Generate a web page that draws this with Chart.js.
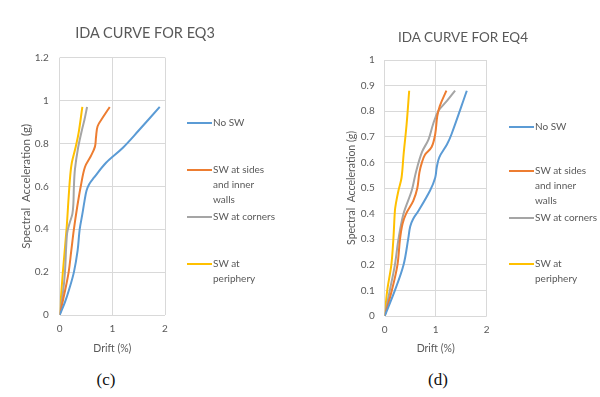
<!DOCTYPE html>
<html>
<head>
<meta charset="utf-8">
<script src="https://cdn.jsdelivr.net/npm/chart.js@4.4.3/dist/chart.umd.min.js"></script>
<style>
  body { margin: 0; background: #fff; width: 600px; height: 397px; position: relative; overflow: hidden; font-family: Lato, sans-serif; color: #595959; }
  canvas { position: absolute; top: 0; }
  #eq3 { left: 0; }
  #eq4 { left: 300px; }
  .title { position: absolute; white-space: nowrap; transform: translate(-50%, -50%); }
  .legend { position: absolute; font-size: 10px; line-height: 15px; }
  .item { position: absolute; left: 0; display: flex; }
  .swatch { width: 25px; height: 2px; margin-top: 7px; }
  .lbl { padding-left: 1px; white-space: nowrap; }
  .cap { position: absolute; font-family: 'Liberation Serif', serif; font-size: 17px; color: #111; transform: translate(-50%, -50%); }
</style>
</head>
<body>
<canvas id="eq3" width="300" height="365"></canvas>
<canvas id="eq4" width="300" height="365"></canvas>
<div class="title" style="left:145px;top:32px;font-size:14.5px">IDA CURVE FOR EQ3</div>
<div class="title" style="left:463px;top:37px;font-size:13.5px">IDA CURVE FOR EQ4</div>
<div class="legend" id="leg3" style="left:187px;top:0"></div>
<div class="legend" id="leg4" style="left:509px;top:0"></div>
<div class="cap" style="left:106px;top:380px">(c)</div>
<div class="cap" style="left:438px;top:380px">(d)</div>
<script>
// Series names and colours (Excel default palette)
const seriesNames = ['No SW', 'SW at sides and inner walls', 'SW at corners', 'SW at periphery'];
const seriesColors = ['#5B9BD5', '#ED7D31', '#A5A5A5', '#FFC000'];
// how the legend wraps each name
const legendLines = [['No SW'], ['SW at sides', 'and inner', 'walls'], ['SW at corners'], ['SW at', 'periphery']];

// Tick values / labels
const xTicks = [0, 1, 2];
const xLabels = ['0', '1', '2'];
const yTicksEQ3 = [0, 0.2, 0.4, 0.6, 0.8, 1, 1.2];
const yLabelsEQ3 = ['0', '0.2', '0.4', '0.6', '0.8', '1', '1.2'];
const yTicksEQ4 = [0, 0.1, 0.2, 0.3, 0.4, 0.5, 0.6, 0.7, 0.8, 0.9, 1];
const yLabelsEQ4 = ['0', '0.1', '0.2', '0.3', '0.4', '0.5', '0.6', '0.7', '0.8', '0.9', '1'];

// EQ3 - drift (%) and spectral acceleration (g)
const eq3NoSwDrift = [0, 0.1, 0.18, 0.27, 0.34, 0.38, 0.43, 0.47, 0.51, 0.56, 0.65, 0.88, 1.2, 1.5, 1.9];
const eq3NoSwSa    = [0, 0.06, 0.12, 0.2, 0.3, 0.4, 0.47, 0.53, 0.58, 0.61, 0.64, 0.71, 0.78, 0.86, 0.97];
const eq3SidesDrift = [0, 0.09, 0.17, 0.22, 0.27, 0.33, 0.4, 0.48, 0.59, 0.67, 0.69, 0.72, 0.83, 0.95];
const eq3SidesSa    = [0, 0.1, 0.2, 0.3, 0.4, 0.5, 0.6, 0.69, 0.74, 0.785, 0.83, 0.88, 0.925, 0.97];
const eq3CornersDrift = [0, 0.06, 0.1, 0.14, 0.19, 0.24, 0.26, 0.27, 0.29, 0.35, 0.42, 0.47, 0.52];
const eq3CornersSa    = [0, 0.1, 0.2, 0.38, 0.43, 0.47, 0.52, 0.6, 0.68, 0.78, 0.86, 0.91, 0.97];
const eq3PeriDrift = [0, 0.06, 0.13, 0.17, 0.2, 0.23, 0.3, 0.36, 0.43];
const eq3PeriSa    = [0, 0.2, 0.4, 0.55, 0.65, 0.71, 0.78, 0.85, 0.97];

// EQ4
const eq4NoSwDrift = [0, 0.2, 0.37, 0.46, 0.5, 0.56, 0.66, 0.89, 0.99, 1.02, 1.07, 1.22, 1.31, 1.61];
const eq4NoSwSa    = [0, 0.1, 0.2, 0.3, 0.35, 0.38, 0.41, 0.49, 0.54, 0.58, 0.62, 0.67, 0.71, 0.88];
const eq4SidesDrift = [0, 0.14, 0.25, 0.3, 0.35, 0.42, 0.56, 0.64, 0.68, 0.73, 0.79, 0.92, 0.99, 1.03, 1.08, 1.21];
const eq4SidesSa    = [0, 0.1, 0.2, 0.3, 0.36, 0.4, 0.45, 0.5, 0.56, 0.6, 0.63, 0.66, 0.71, 0.78, 0.82, 0.88];
const eq4CornersDrift = [0, 0.1, 0.2, 0.27, 0.37, 0.53, 0.61, 0.73, 0.86, 0.95, 1.05, 1.22, 1.38];
const eq4CornersSa    = [0, 0.1, 0.2, 0.3, 0.4, 0.49, 0.56, 0.64, 0.69, 0.75, 0.8, 0.84, 0.88];
const eq4PeriDrift = [0, 0.05, 0.13, 0.17, 0.2, 0.22, 0.27, 0.33, 0.37, 0.43, 0.48];
const eq4PeriSa    = [0, 0.1, 0.2, 0.3, 0.41, 0.44, 0.49, 0.54, 0.63, 0.75, 0.88];

const FONT = 'Lato';
const TEXT = '#595959';
const GRID = '#D9D9D9';

function zip(xs, ys) {
  return xs.map((x, i) => ({ x, y: ys[i] }));
}

function makeChart(id, series, yTicks, yLabels, box) {
  const datasets = series.map((s, i) => ({
    label: seriesNames[i],
    data: zip(s[0], s[1]),
    showLine: true,
    borderColor: seriesColors[i],
    backgroundColor: seriesColors[i],
    borderWidth: 2,
    pointRadius: 0,
    tension: 0.35
  }));
  return new Chart(document.getElementById(id), {
    type: 'scatter',
    data: { datasets },
    options: {
      responsive: false,
      animation: false,
      layout: { padding: { left: 0, top: box.top, right: box.right, bottom: 0 } },
      plugins: { legend: { display: false }, tooltip: { enabled: false } },
      scales: {
        x: {
          type: 'linear', min: 0, max: 2,
          afterFit: (s) => { s.height = box.xHeight; },
          afterBuildTicks: (s) => { s.ticks = xTicks.map(v => ({ value: v })); },
          ticks: { padding: 8, color: TEXT, font: { family: FONT, size: 10 }, callback: (v, i) => xLabels[i] },
          grid: { color: GRID, drawTicks: false },
          border: { display: false },
          title: { display: true, text: 'Drift (%)', color: TEXT, font: { family: FONT, size: 10.5 }, padding: { top: 0, bottom: box.xTitlePad } }
        },
        y: {
          type: 'linear', min: 0, max: yTicks[yTicks.length - 1],
          afterFit: (s) => { s.width = box.left; },
          afterBuildTicks: (s) => { s.ticks = yTicks.map(v => ({ value: v })); },
          ticks: { padding: box.yTickPad, color: TEXT, font: { family: FONT, size: 10 }, callback: (v, i) => yLabels[i] },
          grid: { color: GRID, drawTicks: false },
          border: { display: false },
          title: { display: true, text: 'Spectral  Acceleration (g)', color: TEXT, font: { family: FONT, size: box.yTitleSize }, padding: { top: box.yTitlePad, bottom: 0 } }
        }
      }
    }
  });
}

function buildLegend(id, rows) {
  const el = document.getElementById(id);
  seriesNames.forEach((name, i) => {
    const item = document.createElement('div');
    item.className = 'item';
    item.style.top = (rows[i] - 8) + 'px';
    item.title = name;
    item.innerHTML = '<div class="swatch" style="background:' + seriesColors[i] + '"></div><div class="lbl">' + legendLines[i].join('<br>') + '</div>';
    el.appendChild(item);
  });
}

makeChart('eq3', [
  [eq3NoSwDrift, eq3NoSwSa],
  [eq3SidesDrift, eq3SidesSa],
  [eq3CornersDrift, eq3CornersSa],
  [eq3PeriDrift, eq3PeriSa]
], yTicksEQ3, yLabelsEQ3, { top: 57.6, right: 135, left: 59.7, xHeight: 50, xTitlePad: 10, yTickPad: 11, yTitlePad: 19, yTitleSize: 11.5 });

makeChart('eq4', [
  [eq4NoSwDrift, eq4NoSwSa],
  [eq4SidesDrift, eq4SidesSa],
  [eq4CornersDrift, eq4CornersSa],
  [eq4PeriDrift, eq4PeriSa]
], yTicksEQ4, yLabelsEQ4, { top: 60, right: 113.3, left: 84.7, xHeight: 49, xTitlePad: 10, yTickPad: 10, yTitlePad: 45, yTitleSize: 10.5 });

buildLegend('leg3', [123, 170, 217, 264]);
buildLegend('leg4', [127, 171, 218, 264]);
</script>
</body>
</html>
